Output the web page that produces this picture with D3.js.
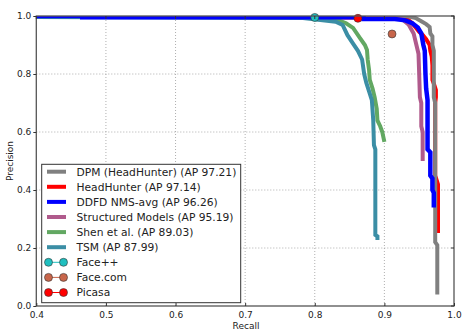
<!DOCTYPE html>
<html><head><meta charset="utf-8">
<script src="https://cdn.jsdelivr.net/npm/d3@7"></script>
<style>body{margin:0;background:#fff}svg{display:block;font-family:"DejaVu Sans",sans-serif}</style>
</head><body><svg id="c" width="471" height="332"></svg>
<script>
const xTicks=[0.4,0.5,0.6,0.7,0.8,0.9,1.0];
const yTicks=[0.0,0.2,0.4,0.6,0.8,1.0];
const seriesNames=["DPM (HeadHunter) (AP 97.21)","HeadHunter (AP 97.14)","DDFD NMS-avg (AP 96.26)","Structured Models (AP 95.19)","Shen et al. (AP 89.03)","TSM (AP 87.99)"];
const seriesColors=["#808080","#ff0000","#0000ff","#b05a8c","#62a862","#3b8ea5"];
const dpm=[[0.0,1],[0.932,1],[0.945,0.993],[0.953,0.982],[0.96,0.972],[0.965,0.962],[0.966,0.94],[0.969,0.93],[0.969,0.90],[0.971,0.88],[0.971,0.72],[0.973,0.70],[0.973,0.22],[0.976,0.21],[0.976,0.04]];
const headhunter=[[0.0,1],[0.93,0.995],[0.94,0.975],[0.945,0.96],[0.95,0.945],[0.955,0.935],[0.96,0.92],[0.965,0.9],[0.966,0.88],[0.968,0.86],[0.969,0.83],[0.969,0.78],[0.972,0.76],[0.974,0.745],[0.974,0.72],[0.973,0.70],[0.973,0.45],[0.977,0.42],[0.977,0.252]];
const ddfd=[[0.0,1],[0.466,1],[0.466,0.996],[0.87,0.996],[0.87,0.99],[0.915,0.99],[0.93,0.985],[0.94,0.975],[0.948,0.96],[0.953,0.94],[0.956,0.9],[0.958,0.88],[0.959,0.8],[0.96,0.75],[0.962,0.71],[0.962,0.54],[0.966,0.53],[0.966,0.45],[0.969,0.44],[0.969,0.40],[0.971,0.39],[0.971,0.34]];
const structured=[[0.0,1],[0.9,0.995],[0.925,0.99],[0.935,0.97],[0.942,0.94],[0.946,0.90],[0.949,0.87],[0.95,0.80],[0.951,0.72],[0.953,0.70],[0.953,0.62],[0.955,0.60],[0.955,0.50]];
const shen=[[0.0,1],[0.8,0.996],[0.826,0.993],[0.845,0.975],[0.855,0.959],[0.865,0.924],[0.872,0.9],[0.875,0.883],[0.876,0.85],[0.878,0.814],[0.879,0.78],[0.883,0.75],[0.886,0.72],[0.889,0.68],[0.890,0.64],[0.894,0.62],[0.897,0.60],[0.900,0.566]];
const tsm=[[0.0,1],[0.783,0.993],[0.83,0.98],[0.84,0.969],[0.847,0.934],[0.855,0.905],[0.862,0.88],[0.868,0.85],[0.871,0.80],[0.874,0.77],[0.878,0.74],[0.882,0.71],[0.884,0.64],[0.885,0.555],[0.887,0.54],[0.887,0.245],[0.890,0.24],[0.890,0.228]];
const pointNames=["Face++","Face.com","Picasa"];
const pointColors=["#1fbfbf","#c8664b","#ff0000"];
const pointValues=[[0.8,0.995],[0.911,0.938],[0.862,0.992]];

const curves=[dpm,headhunter,ddfd,structured,shen,tsm];
const drawOrder=[1,0,3,4,5,2];

const svg=d3.select("#c");
const x=d3.scaleLinear().domain([0.4,1.0]).range([36.3,454]);
const y=d3.scaleLinear().domain([0,1]).range([306,16]);

const grid=svg.append("g").attr("stroke","#9a9a9a").attr("stroke-width",0.8).attr("stroke-dasharray","1,2");
xTicks.slice(1,-1).forEach(t=>grid.append("line").attr("x1",x(t)).attr("x2",x(t)).attr("y1",y(0)).attr("y2",y(1)));
yTicks.slice(1,-1).forEach(t=>grid.append("line").attr("y1",y(t)).attr("y2",y(t)).attr("x1",x(0.4)).attr("x2",x(1)));

svg.append("clipPath").attr("id","clip").append("rect").attr("x",x(0.4)).attr("y",y(1)).attr("width",x(1)-x(0.4)).attr("height",y(0)-y(1));
const line=d3.line().x(d=>x(d[0])).y(d=>y(d[1]));
const cg=svg.append("g").attr("clip-path","url(#clip)");
drawOrder.forEach(i=>{
  cg.append("path").attr("d",line(curves[i])).attr("fill","none").attr("stroke",seriesColors[i]).attr("stroke-width",i===2?4.5:4).attr("stroke-linejoin","miter");
});
pointValues.forEach((p,i)=>{
  svg.append("circle").attr("cx",x(p[0])).attr("cy",y(p[1])).attr("r",4).attr("fill",pointColors[i]).attr("stroke","#333").attr("stroke-width",0.6);
});

svg.append("rect").attr("x",x(0.4)).attr("y",y(1)).attr("width",x(1)-x(0.4)).attr("height",y(0)-y(1)).attr("fill","none").attr("stroke","#555").attr("stroke-width",1.3);

const ax=svg.append("g").attr("transform",`translate(0,${y(0)})`).call(d3.axisBottom(x).tickValues(xTicks).tickFormat(d3.format(".1f")).tickSizeInner(-3).tickSizeOuter(0).tickPadding(6));
const ay=svg.append("g").attr("transform",`translate(${x(0.4)},0)`).call(d3.axisLeft(y).tickValues(yTicks).tickFormat(d3.format(".1f")).tickSizeInner(3).tickSizeOuter(0).tickPadding(2));
[ax,ay].forEach(a=>{a.select(".domain").remove();a.selectAll("line").attr("stroke","#333");a.selectAll("text").attr("font-family","DejaVu Sans").attr("font-size",9).attr("fill","#222");});
yTicks.forEach(t=>svg.append("line").attr("x1",x(1)-3).attr("x2",x(1)).attr("y1",y(t)).attr("y2",y(t)).attr("stroke","#333"));
xTicks.forEach(t=>svg.append("line").attr("x1",x(t)).attr("x2",x(t)).attr("y1",y(1)).attr("y2",y(1)+3).attr("stroke","#333"));

svg.append("text").attr("x",246).attr("y",329).attr("text-anchor","middle").attr("font-size",9).attr("fill","#222").text("Recall");
svg.append("text").attr("transform","translate(13,161) rotate(-90)").attr("text-anchor","middle").attr("font-size",9).attr("fill","#222").text("Precision");

const lg=svg.append("g");
lg.append("rect").attr("x",41.7).attr("y",164.3).attr("width",199).attr("height",138.4).attr("fill","#fff").attr("stroke","#333").attr("stroke-width",1);
const rowY=i=>171.7+i*15.1;
seriesNames.forEach((n,i)=>{
  lg.append("line").attr("x1",47).attr("x2",66).attr("y1",rowY(i)).attr("y2",rowY(i)).attr("stroke",seriesColors[i]).attr("stroke-width",4);
  lg.append("text").attr("x",76.5).attr("y",rowY(i)).attr("dy","0.36em").attr("font-size",10.7).attr("fill","#222").text(n);
});
pointNames.forEach((n,j)=>{
  const i=j+6;
  lg.append("line").attr("x1",48.5).attr("x2",63.5).attr("y1",rowY(i)).attr("y2",rowY(i)).attr("stroke",pointColors[j]).attr("stroke-width",1);
  [48.5,63.5].forEach(cx=>lg.append("circle").attr("cx",cx).attr("cy",rowY(i)).attr("r",4).attr("fill",pointColors[j]).attr("stroke","#333").attr("stroke-width",0.6));
  lg.append("text").attr("x",76.5).attr("y",rowY(i)).attr("dy","0.36em").attr("font-size",10.7).attr("fill","#222").text(n);
});
</script></body></html>
